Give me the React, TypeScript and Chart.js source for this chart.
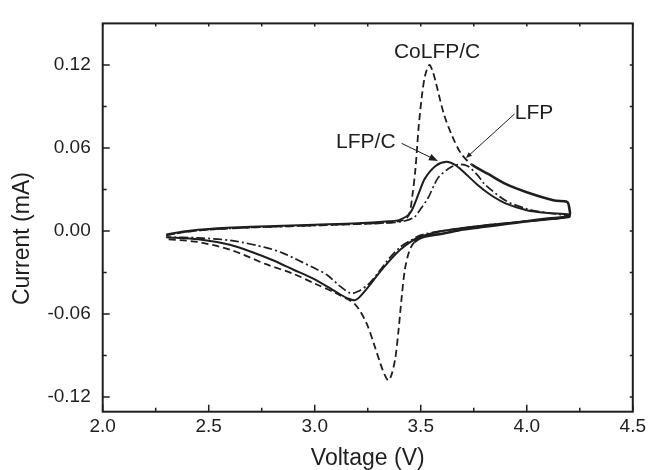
import { useEffect, useRef } from "react";
import { Chart, registerables } from "chart.js";

Chart.register(...registerables);

const FONT = '"Liberation Sans", Arial, Helvetica, sans-serif';
const INK = "#1e1e1e";

// axis ticks
const xTicks = [2.0, 2.5, 3.0, 3.5, 4.0, 4.5];
const xMinor = [2.25, 2.75, 3.25, 3.75, 4.25];
const yTicks = [-0.12, -0.06, 0.0, 0.06, 0.12];
const yMinor = [-0.09, -0.03, 0.03, 0.09];

// CoLFP/C (dashed)
const coAnodicV = [2.3, 2.4, 2.5, 2.7, 3.0, 3.2, 3.35, 3.42, 3.445, 3.46, 3.475, 3.49, 3.505, 3.52, 3.54, 3.555, 3.57, 3.61, 3.65, 3.69, 3.74, 3.82, 3.9, 4.0, 4.13, 4.19, 4.2];
const coAnodicI = [-0.003, -0.0005, 0.001, 0.0025, 0.004, 0.005, 0.006, 0.008, 0.012, 0.025, 0.045, 0.075, 0.097, 0.112, 0.12, 0.116, 0.108, 0.084, 0.068, 0.056, 0.048, 0.041, 0.034, 0.028, 0.022, 0.021, 0.017];
const coCathodicV = [4.2, 4.1, 4.0, 3.9, 3.8, 3.7, 3.6, 3.52, 3.47, 3.445, 3.425, 3.41, 3.395, 3.38, 3.362, 3.347, 3.33, 3.31, 3.28, 3.245, 3.19, 3.1, 3.0, 2.9, 2.77, 2.61, 2.45, 2.3];
const coCathodicI = [0.011, 0.009, 0.007, 0.005, 0.003, 0.001, -0.002, -0.004, -0.008, -0.015, -0.028, -0.048, -0.072, -0.092, -0.104, -0.108, -0.104, -0.096, -0.082, -0.067, -0.053, -0.045, -0.038, -0.031, -0.024, -0.014, -0.008, -0.006];

// LFP/C (solid)
const lfpcAnodicV = [2.3, 2.4, 2.5, 2.7, 3.0, 3.2, 3.35, 3.4, 3.45, 3.49, 3.52, 3.57, 3.62, 3.66, 3.7, 3.77, 3.83, 3.9, 4.0, 4.1, 4.2];
const lfpcAnodicI = [-0.0025, 0.0, 0.0015, 0.003, 0.0045, 0.0055, 0.007, 0.008, 0.013, 0.027, 0.038, 0.047, 0.05, 0.048, 0.043, 0.033, 0.026, 0.02, 0.015, 0.013, 0.012];
const lfpcCathodicV = [4.2, 4.0, 3.8, 3.6, 3.5, 3.45, 3.4, 3.35, 3.3, 3.25, 3.21, 3.19, 3.16, 3.1, 3.0, 2.9, 2.8, 2.7, 2.6, 2.45, 2.3];
const lfpcCathodicI = [0.01, 0.007, 0.004, 0.0, -0.004, -0.008, -0.014, -0.022, -0.031, -0.041, -0.048, -0.05, -0.049, -0.044, -0.035, -0.028, -0.021, -0.015, -0.01, -0.006, -0.0045];

// LFP (dash-dot)
const lfpAnodicV = [2.3, 2.4, 2.5, 2.7, 3.0, 3.2, 3.35, 3.42, 3.47, 3.5, 3.535, 3.58, 3.63, 3.675, 3.72, 3.77, 3.8, 3.9, 4.0, 4.1, 4.2];
const lfpAnodicI = [-0.003, -0.0005, 0.001, 0.0025, 0.004, 0.005, 0.006, 0.007, 0.01, 0.016, 0.024, 0.038, 0.045, 0.048, 0.047, 0.04, 0.034, 0.022, 0.016, 0.013, 0.011];
const lfpCathodicV = [4.2, 4.0, 3.8, 3.6, 3.5, 3.45, 3.4, 3.35, 3.3, 3.25, 3.2, 3.17, 3.12, 3.06, 3.0, 2.92, 2.85, 2.77, 2.61, 2.45, 2.3];
const lfpCathodicI = [0.01, 0.007, 0.004, 0.0, -0.003, -0.007, -0.012, -0.02, -0.03, -0.039, -0.044, -0.045, -0.04, -0.032, -0.027, -0.021, -0.016, -0.012, -0.007, -0.005, -0.0045];

// annotations (data coordinates)
const labelTexts = ["CoLFP/C", "LFP/C", "LFP"];
const labelV = [3.577, 3.241, 4.034];
const labelI = [0.1293, 0.064, 0.0848];
const arrowFromV = [3.41, 3.942];
const arrowFromI = [0.0633, 0.0845];
const arrowToV = [3.581, 3.713];
const arrowToI = [0.0506, 0.0527];

const toPoints = (v1: number[], i1: number[], v2: number[], i2: number[]) =>
  [...v1.map((v, k) => ({ x: v, y: i1[k] })), ...v2.map((v, k) => ({ x: v, y: i2[k] }))];

const framePlugin = {
  id: "frameTicks",
  afterDraw(chart: any) {
    const { ctx, chartArea } = chart;
    const { left, right, top, bottom } = chartArea;
    const xs = chart.scales.x;
    const ys = chart.scales.y;
    ctx.save();
    ctx.strokeStyle = INK;
    ctx.lineWidth = 2;
    ctx.strokeRect(left, top, right - left, bottom - top);
    ctx.lineWidth = 1.5;
    ctx.beginPath();
    for (const v of xTicks) {
      const p = xs.getPixelForValue(v);
      ctx.moveTo(p, bottom); ctx.lineTo(p, bottom - 7);
      ctx.moveTo(p, top); ctx.lineTo(p, top + 3);
    }
    for (const v of xMinor) {
      const p = xs.getPixelForValue(v);
      ctx.moveTo(p, bottom); ctx.lineTo(p, bottom - 4);
      ctx.moveTo(p, top); ctx.lineTo(p, top + 3);
    }
    for (const v of yTicks) {
      const p = ys.getPixelForValue(v);
      ctx.moveTo(left, p); ctx.lineTo(left + 7, p);
      ctx.moveTo(right, p); ctx.lineTo(right - 3, p);
    }
    for (const v of yMinor) {
      const p = ys.getPixelForValue(v);
      ctx.moveTo(left, p); ctx.lineTo(left + 4, p);
      ctx.moveTo(right, p); ctx.lineTo(right - 3, p);
    }
    ctx.stroke();

    // labels
    ctx.fillStyle = INK;
    ctx.font = `21px ${FONT}`;
    ctx.textAlign = "center";
    ctx.textBaseline = "middle";
    labelTexts.forEach((t, k) => {
      ctx.fillText(t, xs.getPixelForValue(labelV[k]), ys.getPixelForValue(labelI[k]));
    });

    // arrows
    ctx.lineWidth = 1;
    arrowFromV.forEach((_, k) => {
      const x0 = xs.getPixelForValue(arrowFromV[k]);
      const y0 = ys.getPixelForValue(arrowFromI[k]);
      const x1 = xs.getPixelForValue(arrowToV[k]);
      const y1 = ys.getPixelForValue(arrowToI[k]);
      const ang = Math.atan2(y1 - y0, x1 - x0);
      const len = k === 0 ? 9 : 6;
      const wid = k === 0 ? 3.5 : 2.5;
      ctx.beginPath();
      ctx.moveTo(x0, y0);
      ctx.lineTo(x1 - Math.cos(ang) * len * 0.8, y1 - Math.sin(ang) * len * 0.8);
      ctx.stroke();
      ctx.beginPath();
      ctx.moveTo(x1, y1);
      ctx.lineTo(x1 - Math.cos(ang) * len - Math.sin(ang) * wid, y1 - Math.sin(ang) * len + Math.cos(ang) * wid);
      ctx.lineTo(x1 - Math.cos(ang) * len + Math.sin(ang) * wid, y1 - Math.sin(ang) * len - Math.cos(ang) * wid);
      ctx.closePath();
      ctx.fill();
    });

    // y axis title
    ctx.save();
    ctx.font = `23px ${FONT}`;
    ctx.translate(23, (top + bottom) / 2 + 21);
    ctx.rotate(-Math.PI / 2);
    ctx.fillText("Current (mA)", 0, 0);
    ctx.restore();
    ctx.restore();
  },
};

export default function App() {
  const ref = useRef<HTMLCanvasElement | null>(null);

  useEffect(() => {
    if (!ref.current) return;
    const coAnodicLen = coAnodicV.length;
    const noisy = (c: any) =>
      (c.p0DataIndex < coAnodicLen && c.p0.parsed.x > 3.72) ||
      (c.p0DataIndex >= coAnodicLen && c.p1.parsed.x > 3.46);
    const chart = new Chart(ref.current, {
      type: "line",
      data: {
        datasets: [
          {
            label: "CoLFP/C",
            data: toPoints(coAnodicV, coAnodicI, coCathodicV, coCathodicI),
            borderColor: INK,
            borderWidth: 1.8,
            borderDash: [7, 4],
            pointRadius: 0,
            tension: 0.3,
            segment: {
              borderWidth: (c: any) => (noisy(c) ? 2.6 : undefined),
              borderDash: (c: any) => (noisy(c) ? [] : undefined),
            },
          } as any,
          {
            label: "LFP/C",
            data: toPoints(lfpcAnodicV, lfpcAnodicI, lfpcCathodicV, lfpcCathodicI),
            borderColor: INK,
            borderWidth: 2,
            pointRadius: 0,
            tension: 0.3,
          },
          {
            label: "LFP",
            data: toPoints(lfpAnodicV, lfpAnodicI, lfpCathodicV, lfpCathodicI),
            borderColor: INK,
            borderWidth: 1.7,
            borderDash: [9, 3, 2, 3],
            pointRadius: 0,
            tension: 0.3,
          },
        ],
      },
      options: {
        animation: false,
        responsive: false,
        devicePixelRatio: 1,
        layout: { padding: { left: 0, right: 14, top: 14, bottom: 0 } },
        plugins: { legend: { display: false }, tooltip: { enabled: false } },
        scales: {
          x: {
            type: "linear",
            min: 2.0,
            max: 4.5,
            grid: { display: false, drawTicks: false },
            border: { display: false },
            afterBuildTicks: (s: any) => {
              s.ticks = xTicks.map((v) => ({ value: v }));
            },
            afterFit: (s: any) => {
              s.height = 58.3;
            },
            ticks: {
              autoSkip: false,
              maxRotation: 0,
              padding: 4,
              color: INK,
              font: { family: FONT, size: 19 },
              callback: (v: any) => Number(v).toFixed(1),
            },
            title: {
              display: true,
              text: "Voltage (V)",
              color: INK,
              font: { family: FONT, size: 23, lineHeight: 1 },
              padding: { top: 0, bottom: 0 },
            },
          },
          y: {
            type: "linear",
            min: -0.1306,
            max: 0.15,
            grid: { display: false, drawTicks: false },
            border: { display: false },
            afterBuildTicks: (s: any) => {
              s.ticks = yTicks.map((v) => ({ value: v }));
            },
            afterFit: (s: any) => {
              s.width = 102.7;
            },
            ticks: {
              autoSkip: false,
              padding: 12,
              color: INK,
              font: { family: FONT, size: 19 },
              callback: (v: any) => Number(v).toFixed(2),
            },
          },
        },
      },
      plugins: [framePlugin],
    });
    return () => chart.destroy();
  }, []);

  return (
    <div style={{ position: "fixed", left: 0, top: 0, width: 650, height: 470, background: "#fff" }}>
      <canvas ref={ref} width={650} height={470} style={{ width: 650, height: 470, display: "block" }} />
    </div>
  );
}
